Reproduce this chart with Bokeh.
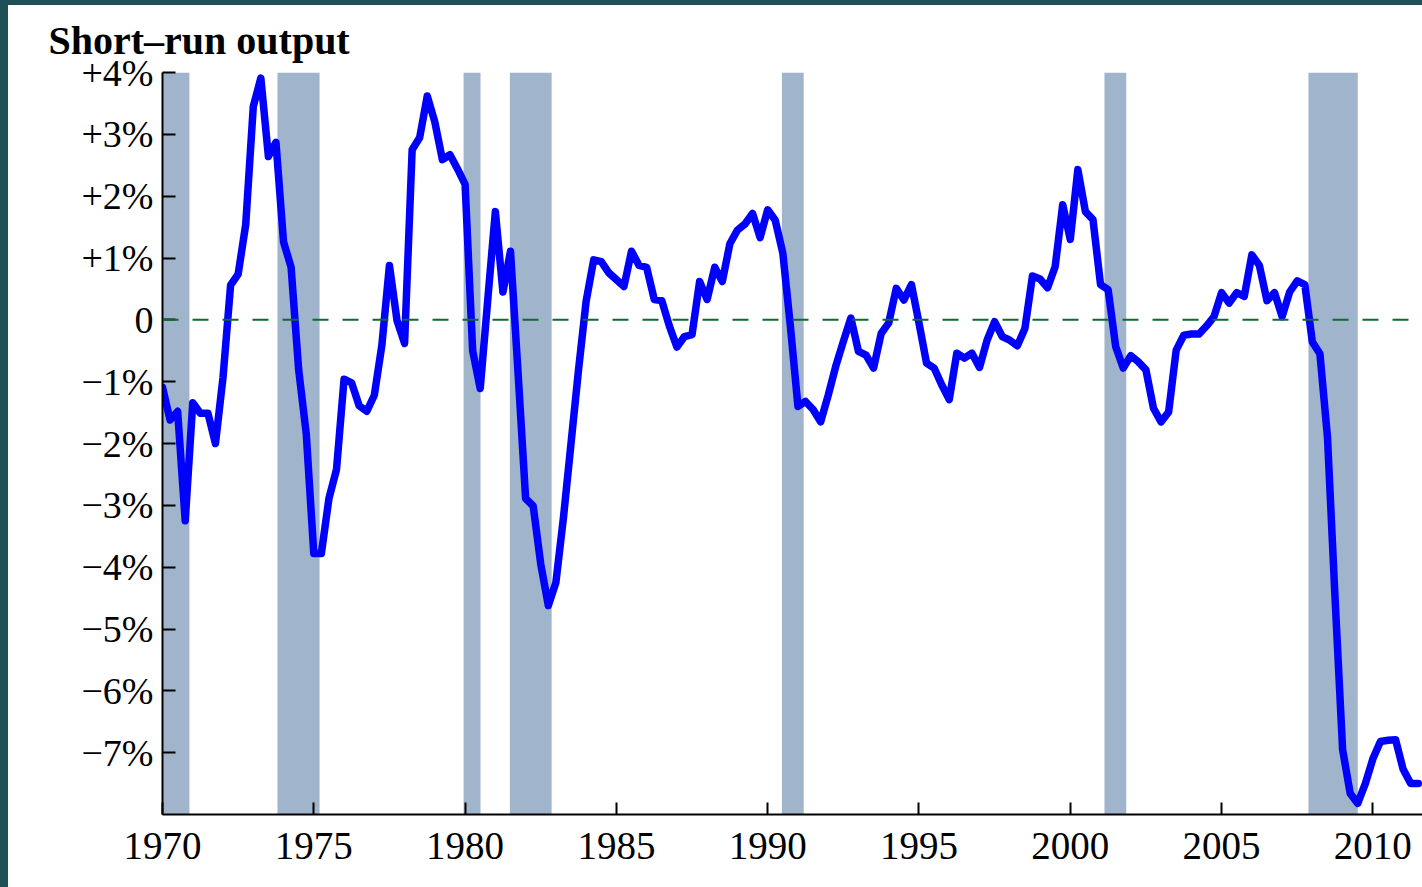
from bokeh.plotting import figure
from bokeh.models import Range1d, FixedTicker, Span
from bokeh.embed import file_html
from bokeh.resources import INLINE

# Quarterly short-run output (percent deviation from potential), 1970Q1 onward
output_gap = [
    -1.09, -1.62, -1.48, -3.25,   # 1970
    -1.34, -1.51, -1.51, -2.00,   # 1971
    -0.93, 0.56, 0.74, 1.54,      # 1972
    3.45, 3.91, 2.64, 2.87,       # 1973
    1.26, 0.85, -0.81, -1.84,     # 1974
    -3.78, -3.78, -2.89, -2.42,   # 1975
    -0.96, -1.02, -1.39, -1.48,   # 1976
    -1.22, -0.41, 0.88, -0.01,    # 1977
    -0.38, 2.75, 2.95, 3.62,      # 1978
    3.20, 2.59, 2.67, 2.44,       # 1979
    2.19, -0.50, -1.11, 0.33,     # 1980
    1.75, 0.45, 1.11, -0.85,      # 1981
    -2.89, -3.01, -3.95, -4.62,   # 1982
    -4.25, -3.20, -2.00, -0.80,   # 1983
    0.30, 0.97, 0.94, 0.76,       # 1984
    0.65, 0.54, 1.11, 0.88,       # 1985
    0.85, 0.33, 0.31, -0.10,      # 1986
    -0.44, -0.27, -0.24, 0.62,    # 1987
    0.33, 0.85, 0.62, 1.23,       # 1988
    1.45, 1.55, 1.72, 1.33,       # 1989
    1.78, 1.61, 1.08, -0.10,      # 1990
    -1.40, -1.32, -1.45, -1.65,   # 1991
    -1.22, -0.75, -0.35, 0.03,    # 1992
    -0.51, -0.57, -0.78, -0.22,   # 1993
    -0.05, 0.51, 0.32, 0.57,      # 1994
    -0.05, -0.70, -0.78, -1.05,   # 1995
    -1.29, -0.54, -0.62, -0.54,   # 1996
    -0.77, -0.33, -0.03, -0.27,   # 1997
    -0.33, -0.42, -0.14, 0.71,    # 1998
    0.66, 0.52, 0.86, 1.86,       # 1999
    1.30, 2.43, 1.75, 1.62,       # 2000
    0.57, 0.49, -0.43, -0.78,     # 2001
    -0.58, -0.68, -0.81, -1.43,   # 2002
    -1.65, -1.49, -0.49, -0.25,   # 2003
    -0.23, -0.23, -0.10, 0.05,    # 2004
    0.44, 0.27, 0.44, 0.38,       # 2005
    1.05, 0.88, 0.31, 0.44,       # 2006
    0.05, 0.45, 0.63, 0.57,       # 2007
    -0.36, -0.55, -1.90, -4.50,   # 2008
    -6.95, -7.66, -7.82, -7.50,   # 2009
    -7.10, -6.82, -6.80, -6.79,   # 2010
    -7.27, -7.50, -7.50,          # 2011
]
first_year = 1970.0
quarter_years = [first_year + 0.25 * i for i in range(len(output_gap))]

# Recession periods (shaded)
rec_start = [1969.92, 1973.80, 1979.95, 1981.48, 1990.47, 2001.13, 2007.87]
rec_end = [1970.89, 1975.19, 1980.51, 1982.86, 1991.19, 2001.85, 2009.50]

x_ticks = [1970, 1975, 1980, 1985, 1990, 1995, 2000, 2005, 2010]
y_ticks = [4, 3, 2, 1, 0, -1, -2, -3, -4, -5, -6, -7]
y_labels = ["+4%", "+3%", "+2%", "+1%", "0", "\u22121%", "\u22122%", "\u22123%",
            "\u22124%", "\u22125%", "\u22126%", "\u22127%"]

p = figure(width=1414, height=882, output_backend="svg", toolbar_location=None,
           x_range=Range1d(1970.0, 2011.64), y_range=Range1d(-8.0, 4.0),
           min_border_left=154, min_border_right=0, min_border_top=67,
           min_border_bottom=73)
p.outline_line_color = None
p.background_fill_color = "white"
p.border_fill_color = "white"
p.grid.visible = False

p.title.text = "Short\u2013run output"
p.title.text_font = "Liberation Serif"
p.title.text_font_style = "bold"
p.title.text_font_size = "40px"
p.title.align = "left"
p.title.offset = -114
p.title.standoff = 19
p.title.text_color = "black"

# recession shading
p.quad(left=rec_start, right=rec_end, bottom=-8.0, top=4.0,
       fill_color="#a0b4cb", line_color=None)

# zero line
p.add_layout(Span(location=0, dimension="width", line_color="#0e6a2e",
                  line_width=2, line_dash="16 14"))

# output line
p.line(quarter_years, output_gap, line_color="#0000ff", line_width=7.5,
       line_join="round", line_cap="round")

# axes
for ax in (p.xaxis[0], p.yaxis[0]):
    ax.axis_line_color = "black"
    ax.axis_line_width = 2
    ax.major_tick_line_color = "black"
    ax.major_tick_line_width = 2
    ax.major_tick_out = 0
    ax.minor_tick_line_color = None
    ax.major_label_text_font = "Liberation Serif"
    ax.major_label_text_color = "black"

p.xaxis.ticker = FixedTicker(ticks=x_ticks)
p.xaxis.major_tick_in = 12
p.xaxis.major_label_text_font_size = "39px"
p.xaxis.major_label_standoff = 18

p.yaxis.ticker = FixedTicker(ticks=y_ticks)
p.yaxis.major_label_overrides = {t: l for t, l in zip(y_ticks, y_labels)}
p.yaxis.major_tick_in = 13
p.yaxis.major_label_text_font_size = "38px"
p.yaxis.major_label_standoff = 9

template = """{% block preamble %}<style>
html { margin: 0 !important; padding: 0 !important; background: #ffffff !important; overflow: hidden !important; }
body { margin: 0 !important; padding: 0 !important; background: #ffffff !important;
       border-top: 5px solid #1f4f57 !important; border-left: 8px solid #1f4f57 !important;
       box-sizing: border-box !important; overflow: hidden !important; }
</style>{% endblock %}"""

open("out.html", "w").write(file_html(p, INLINE, title="Short-run output", template=template))
